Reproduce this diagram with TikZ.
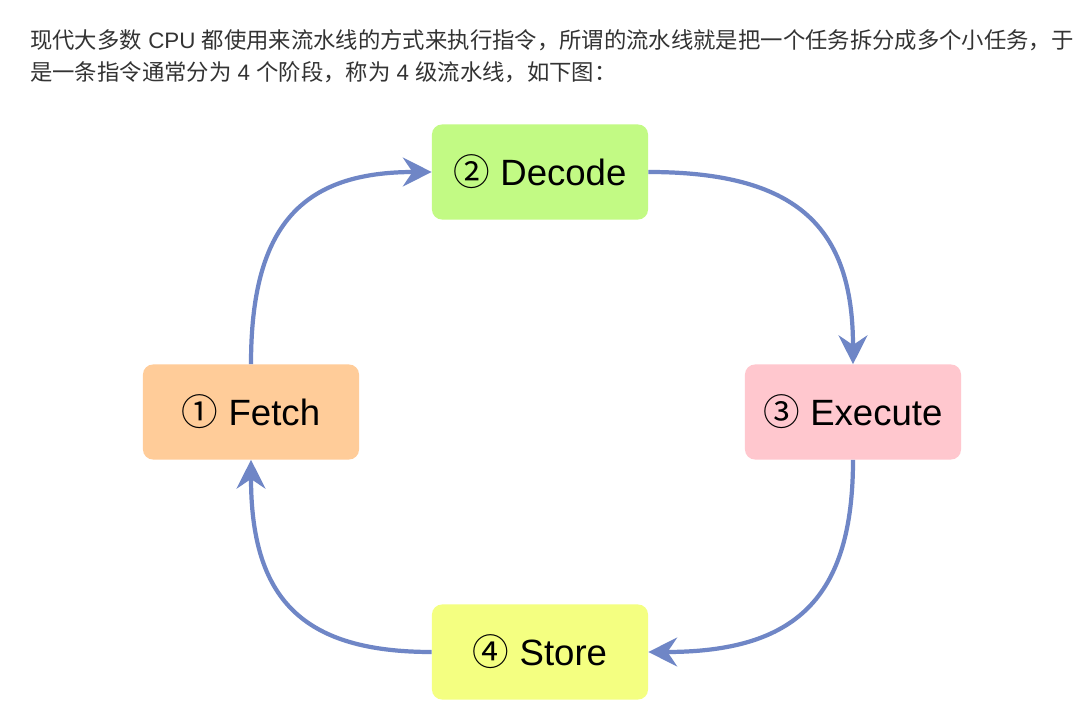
\documentclass[tikz,border=0pt]{standalone}
\usepackage{fontspec}
\setmainfont{Liberation Sans}
\newfontfamily\cjk{Noto Sans CJK SC}
\usetikzlibrary{arrows.meta, calc}

\definecolor{fetchcol}{HTML}{FFCC99}
\definecolor{decodecol}{HTML}{C2FA84}
\definecolor{execcol}{HTML}{FFC7CE}
\definecolor{storecol}{HTML}{F4FF81}
\definecolor{flowcol}{HTML}{6F86C6}
\definecolor{textcol}{HTML}{333333}

\tikzset{
    stage/.style = {rounded corners = 0.25cm, minimum width = 5.4cm, minimum height = 2.375cm,
        font = \fontsize{26}{30}\selectfont},
    flow/.style = {draw = flowcol, line width = 3pt,
        -{Stealth[length = 0.72cm, width = 0.72cm, inset = 0.24cm]}},
    intro/.style = {anchor = west, inner sep = 0pt, text = textcol,
        font = \fontsize{15.9}{18}\selectfont}
}

\begin{document}
\begin{tikzpicture}[x = 0.025cm, y = 0.025cm]
            % \draw[style = help lines] (0,0) grid (1084,710);
            \fill[white] (0,0) rectangle (1084,710);
            \useasboundingbox (0,0) rectangle (1084,710);

            % text above the picture
            \node[intro] (line1) at (30,670) {{\cjk 现代大多数} CPU {\cjk 都使用来流水线的方式来执行指令，所谓的流水线就是把一个任务拆分成多个小任务，于}};
            \node[intro] (line2) at (30,638) {{\cjk 是一条指令通常分为} 4 {\cjk 个阶段，称为} 4 {\cjk 级流水线，如下图：}};

            % the four stages
            \node[stage, fill = fetchcol] (fetch) at (251,298) {{\cjk ①} Fetch};
            \node[stage, fill = decodecol] (decode) at (540,538) {{\cjk ②} Decode};
            \node[stage, fill = execcol] (execute) at (853,298) {{\cjk ③} Execute};
            \node[stage, fill = storecol] (store) at (540,58) {{\cjk ④} Store};

            % corners of the loop
            \coordinate (tl) at (fetch.north |- decode.west);
            \coordinate (tr) at (execute.north |- decode.east);
            \coordinate (br) at (execute.south |- store.east);
            \coordinate (bl) at (fetch.south |- store.west);

            % the loop
            \draw[flow] (fetch.north) .. controls ($(fetch.north)!0.72!(tl)$) and ($(decode.west)!0.72!(tl)$) .. (decode.west);
            \draw[flow] (decode.east) .. controls ($(decode.east)!0.72!(tr)$) and ($(execute.north)!0.72!(tr)$) .. (execute.north);
            \draw[flow] (execute.south) .. controls ($(execute.south)!0.72!(br)$) and ($(store.east)!0.72!(br)$) .. (store.east);
            \draw[flow] (store.west) .. controls ($(store.west)!0.72!(bl)$) and ($(fetch.south)!0.72!(bl)$) .. (fetch.south);
        \end{tikzpicture}
\end{document}
